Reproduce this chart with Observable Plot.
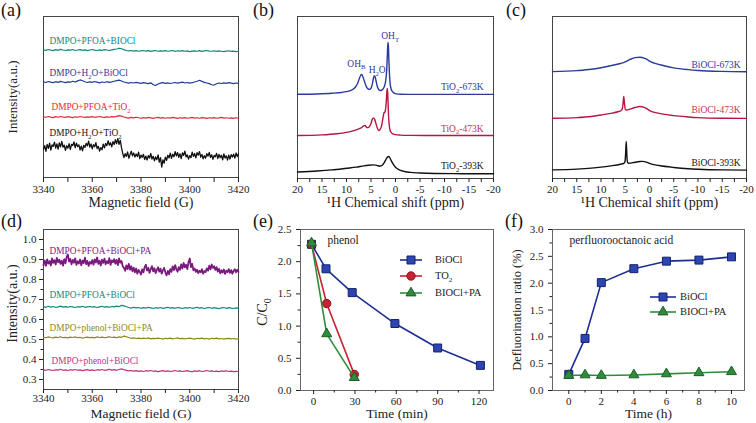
<!DOCTYPE html>
<html><head><meta charset="utf-8">
<script src="https://cdn.jsdelivr.net/npm/d3@7"></script>
<script src="https://cdn.jsdelivr.net/npm/@observablehq/plot@0.6"></script>
<style>
body{margin:0;background:#fff}
#fig{position:relative;width:756px;height:423px;overflow:hidden;background:#fff;font-family:'Liberation Serif','Times New Roman',serif}
#fig svg{position:absolute}
.plab{position:absolute;font-size:18px;line-height:18px;color:#111}
.leg{position:absolute;font-size:10.5px;line-height:12px;color:#222;white-space:nowrap}
</style></head><body><div id="fig"></div>
<script>
// ---------- DATA ----------
// (a) EPR spectra, 3340..3420 G
const fieldRange = [3340, 3420];
const fieldTicks = [3340,3350,3360,3370,3380,3390,3400,3410,3420];
const tealA = [79.3,79.0,79.5,79.1,78.8,79.4,79.0,79.6,79.2,78.9,79.3,79.1,79.5,78.9,79.2,79.4,79.0,79.3,78.8,79.2,79.5,79.1,78.9,79.3,79.0,79.4,79.2,78.9,79.3,79.6,79.8,80.3,80.0,79.4,78.9,78.6,78.9,78.5,78.8,78.4,78.7,78.9,78.5,78.8,78.3,78.6,78.9,78.4,78.7,78.5,78.8,78.4,78.6,78.9,78.3,78.7,78.5,78.8,78.4,78.6,78.2,78.5,78.7,78.4,78.8,78.3,78.6,78.9,78.5,78.4,78.7,78.3,78.6,78.4,78.2,78.5,78.7,78.3,78.5,78.2,78.4];
const blueA = [59.4,59.0,59.6,59.2,58.9,59.5,59.1,59.7,59.3,58.9,59.4,59.2,59.8,59.3,60.0,60.6,60.1,59.5,59.0,59.4,59.1,59.6,59.2,58.8,59.3,59.0,59.5,59.1,59.4,59.8,60.2,60.5,59.9,59.3,58.9,58.6,59.0,58.7,59.1,58.8,58.5,58.9,58.6,58.3,58.8,57.6,57.2,58.1,58.6,58.9,58.5,58.8,58.4,58.7,59.0,58.6,58.9,59.2,58.7,59.0,58.6,58.9,59.3,59.8,60.4,59.7,59.1,58.7,58.3,57.6,57.4,58.2,58.7,58.4,58.8,58.5,58.9,58.6,58.3,58.7,58.5];
const redA = [37.7,37.4,37.9,37.5,37.2,37.8,37.4,37.9,37.6,37.3,37.8,37.5,37.2,37.7,37.4,37.9,37.6,37.3,37.7,37.5,37.8,37.4,37.6,37.9,37.5,37.3,37.7,37.4,37.8,37.6,38.0,38.4,38.1,37.6,37.2,36.9,37.3,37.0,37.4,37.1,36.8,37.2,36.9,37.3,37.0,36.7,37.1,37.3,36.9,37.2,36.8,37.1,36.9,37.3,37.0,36.7,37.1,36.9,37.2,36.8,37.0,37.3,36.9,37.1,36.8,37.2,37.0,36.7,37.1,36.9,37.2,36.8,37.0,37.3,36.9,37.1,36.8,37.0,36.7,37.1,36.9];
const blackA = [17.5,19.8,16.2,20.5,18.1,21.3,17.0,20.2,19.4,22.0,18.3,20.9,17.6,21.5,19.0,22.4,18.8,20.1,16.9,19.7,
18.2,21.0,17.4,20.6,19.9,22.1,18.5,21.4,19.2,20.3,17.1,19.5,16.6,20.0,18.7,21.2,19.6,22.6,18.9,20.8,
17.8,20.4,19.1,21.7,18.0,19.3,16.4,18.6,17.2,20.7,18.4,21.1,19.8,22.8,20.1,21.6,19.0,22.3,20.5,23.5,
21.0,24.2,20.6,23.1,18.5,
15.0,12.4,14.8,13.1,15.9,12.0,14.2,16.3,13.5,15.2,12.7,14.6,13.0,15.7,11.8,13.9,12.5,14.4,11.2,13.3,
10.9,13.6,12.1,14.9,11.5,13.2,10.4,12.8,11.1,14.1,9.6,12.3,6.5,11.0,8.9,12.6,10.7,13.8,12.2,15.1,
11.9,14.5,12.9,16.0,13.4,15.5,12.6,14.7,11.7,15.3,13.7,16.4,12.8,14.0,11.4,13.6,12.4,15.8,13.1,14.9,
12.2,15.4,13.9,16.1,12.7,14.3,11.6,13.5,12.0,14.8,13.3,15.6,12.5,14.1,11.3,13.7,12.9,15.0,11.8,14.4,
12.3,13.8,11.0,14.6,12.1,13.4,10.8,13.9,11.5,14.2,12.7,14.5,12.0,15.2,13.0,14.7];

// (d) EPR spectra with PA
const intensityTicks = [0.3,0.4,0.5,0.6,0.7,0.8,0.9,1.0];
const intensityMinor = [0.35,0.45,0.55,0.65,0.75,0.85,0.95];
const purpleD = [0.872,0.895,0.868,0.901,0.879,0.892,0.870,0.905,0.883,0.897,0.875,0.908,0.886,0.899,0.878,0.894,0.869,0.902,0.881,0.912,
0.925,0.889,0.903,0.876,0.898,0.884,0.906,0.873,0.891,0.880,0.900,0.871,0.895,0.882,0.909,0.877,0.893,0.868,0.888,0.879,
0.897,0.874,0.901,0.885,0.910,0.878,0.894,0.870,0.899,0.883,0.904,0.876,0.892,0.881,0.907,0.873,0.896,0.886,0.902,0.879,
0.898,0.872,0.905,0.884,0.893,0.866,0.858,0.844,0.871,0.852,0.878,0.849,0.866,0.841,0.859,0.836,0.855,0.829,0.848,0.838,
0.825,0.851,0.836,0.862,0.874,0.845,0.858,0.833,0.852,0.867,0.841,0.856,0.832,0.848,0.861,0.839,0.854,0.829,0.846,0.858,
0.835,0.821,0.843,0.826,0.852,0.838,0.866,0.847,0.872,0.851,0.839,0.862,0.848,0.876,0.855,0.883,0.861,0.874,0.852,0.887,
0.905,0.862,0.878,0.846,0.855,0.838,0.849,0.832,0.844,0.836,0.851,0.829,0.842,0.837,0.856,0.844,0.869,0.851,0.875,0.858,
0.866,0.848,0.862,0.839,0.853,0.831,0.846,0.835,0.850,0.828,0.844,0.837,0.852,0.833,0.847,0.829,0.843,0.851,0.836,0.849,
0.838];
const tealD = [0.664,0.661,0.666,0.662,0.665,0.660,0.663,0.667,0.662,0.664,0.661,0.665,0.663,0.660,0.664,0.662,0.666,0.661,0.663,0.665,0.662,0.664,0.660,0.663,0.666,0.662,0.664,0.661,0.665,0.663,0.667,0.664,0.671,0.668,0.664,0.660,0.657,0.661,0.658,0.660,0.656,0.659,0.657,0.661,0.658,0.655,0.659,0.657,0.660,0.656,0.658,0.661,0.657,0.659,0.656,0.660,0.658,0.655,0.659,0.657,0.660,0.656,0.658,0.661,0.657,0.659,0.655,0.658,0.660,0.656,0.659,0.657,0.654,0.658,0.660,0.656,0.659,0.657,0.655,0.658,0.657];
const oliveD = [0.511,0.509,0.513,0.510,0.508,0.512,0.510,0.514,0.509,0.511,0.508,0.512,0.510,0.513,0.509,0.511,0.507,0.510,0.512,0.509,0.511,0.508,0.513,0.510,0.512,0.509,0.511,0.514,0.510,0.512,0.509,0.513,0.511,0.517,0.514,0.510,0.506,0.508,0.505,0.507,0.504,0.507,0.505,0.508,0.503,0.506,0.504,0.507,0.505,0.502,0.506,0.504,0.507,0.503,0.505,0.508,0.504,0.506,0.503,0.505,0.507,0.504,0.502,0.506,0.504,0.507,0.503,0.505,0.502,0.506,0.504,0.507,0.503,0.505,0.502,0.504,0.506,0.503,0.505,0.502,0.504];
const pinkD = [0.348,0.346,0.350,0.347,0.345,0.349,0.347,0.351,0.346,0.348,0.345,0.349,0.347,0.350,0.346,0.348,0.344,0.347,0.349,0.346,0.348,0.345,0.349,0.347,0.350,0.346,0.348,0.351,0.347,0.349,0.346,0.350,0.353,0.349,0.346,0.343,0.345,0.342,0.344,0.341,0.343,0.340,0.344,0.342,0.345,0.341,0.343,0.339,0.342,0.344,0.341,0.343,0.340,0.342,0.345,0.341,0.343,0.340,0.342,0.344,0.341,0.339,0.343,0.341,0.344,0.340,0.342,0.345,0.341,0.343,0.340,0.342,0.339,0.343,0.341,0.344,0.340,0.342,0.339,0.341,0.340];

// (b) 1H NMR of TiO2
const shiftTicks = [20,17.5,15,12.5,10,7.5,5,2.5,0,-2.5,-5,-7.5,-10,-12.5,-15,-17.5,-20];
const ppmB673 = [20,16,13,11,10,9.2,8.6,8.1,7.7,7.4,7.15,6.95,6.75,6.5,6.2,5.9,5.6,5.3,5.0,4.75,4.55,4.35,4.15,3.95,3.7,3.4,3.1,2.8,2.5,2.25,2.05,1.9,1.78,1.68,1.6,1.52,1.44,1.36,1.26,1.12,0.95,0.75,0.5,0.2,-0.3,-1,-2.5,-5,-10,-15,-20];
const valB673 = [52.0,52.2,52.6,53.1,53.6,54.3,55.2,56.8,59.0,61.5,63.4,64.2,63.6,61.5,58.6,56.4,55.3,55.0,55.8,58.0,61.2,63.4,62.6,60.0,56.6,54.8,54.3,54.6,55.5,57.0,59.5,63.0,68.0,75.0,81.0,84.0,81.5,74.0,66.0,59.5,56.0,54.2,53.2,52.6,52.2,52.0,51.9,51.9,51.9,51.9,51.9];
const ppmB473 = [20,15,12,10,8.5,7.5,6.9,6.5,6.2,5.9,5.6,5.3,5.0,4.75,4.5,4.25,4.0,3.7,3.4,3.1,2.8,2.55,2.35,2.15,1.98,1.85,1.75,1.66,1.58,1.5,1.4,1.28,1.1,0.85,0.5,0,-1,-3,-6,-10,-15,-20];
const valB473 = [26.5,26.9,27.6,28.5,29.6,30.6,31.5,32.5,32.8,31.5,31.4,32.2,34.0,36.5,37.4,36.5,34.0,31.0,29.6,30.5,33.0,37.5,40.5,41.0,44.0,49.0,54.0,55.6,52.0,45.0,38.0,33.0,29.8,28.3,27.6,27.1,26.8,26.6,26.5,26.5,26.5,26.5];
const ppmB393 = [20,16,13,10,8,6.5,5.5,4.5,3.8,3.2,2.7,2.3,2.0,1.7,1.45,1.2,0.9,0.5,0,-0.7,-1.5,-3,-5,-8,-12,-16,-20];
const valB393 = [4.0,4.6,5.3,6.3,7.0,7.8,8.2,8.4,8.1,7.6,8.2,9.8,11.5,13.0,13.6,13.0,11.2,9.0,6.9,5.5,4.6,3.8,3.4,3.1,3.0,2.9,2.9];

// (c) 1H NMR of BiOCl
const ppmC673 = [20,15,12,10,8,6,5,4,3,2,1,0.5,0,-1,-3,-5,-8,-10,-15,-20];
const valC673 = [66.0,66.6,67.4,68.4,69.6,71.0,72.0,73.5,74.6,74.8,74.2,73.5,72.4,71.2,69.6,68.3,67.2,66.7,66.1,65.9];
const ppmC473 = [20,15,12,10,8,6.5,5.9,5.6,5.45,5.3,5.15,5.0,4.7,4,3,2,1,0.5,0,-2,-5,-8,-10,-15,-20];
const valC473 = [37.2,37.6,38.3,39.2,40.2,41.2,41.8,43.0,46.5,50.6,46.0,42.8,42.3,42.8,43.8,44.4,43.8,43.0,41.9,40.2,38.8,38.0,37.6,37.2,37.1];
const ppmC393 = [20,15,12,10,8,6,5.3,5.05,4.92,4.8,4.68,4.55,4.3,3,2,1.5,0.5,0,-2,-5,-8,-10,-15,-20];
const valC393 = [5.3,5.8,6.4,7.0,7.8,8.8,9.3,10.5,15.5,22.9,15.0,10.2,9.4,10.0,10.5,10.6,10.0,9.3,8.0,6.8,6.0,5.7,5.3,5.2];

// (e) phenol degradation
const timeE = [-1.5, 9, 28, 59, 90, 121];
const phenolBiOCl = [2.27, 1.89, 1.52, 1.04, 0.66, 0.39];
const timeE2 = [-1.5, 9.5, 29.5];
const phenolTiO2 = [2.27, 1.35, 0.25];
const phenolPA = [2.29, 0.88, 0.20];
const timeTicksE = [0, 30, 60, 90, 120];
const timeMinorE = [15, 45, 75, 105];
const ccTicks = [0, 0.5, 1.0, 1.5, 2.0, 2.5];
const ccMinor = [0.25, 0.75, 1.25, 1.75, 2.25];

// (f) defluorination of PFOA
const timeF = [0, 1, 2, 4, 6, 8, 10];
const deflBiOCl = [0.30, 0.97, 2.01, 2.27, 2.41, 2.43, 2.49];
const deflPA = [0.28, 0.29, 0.28, 0.29, 0.31, 0.33, 0.35];
const timeTicksF = [0, 2, 4, 6, 8, 10];
const timeMinorF = [1, 3, 5, 7, 9];
const deflTicks = [0, 0.5, 1.0, 1.5, 2.0, 2.5, 3.0];
const deflMinor = [0.25, 0.75, 1.25, 1.75, 2.25, 2.75];

// ---------- HELPERS ----------
const fig = document.getElementById("fig");
const serif = "'Liberation Serif','Times New Roman',serif";
const baseStyle = {fontFamily: serif, fontSize: "11px", color: "#222", background: "transparent", overflow: "visible"};
const fieldFine = blackA.map((_, i) => fieldRange[0] + i * (fieldRange[1] - fieldRange[0]) / (blackA.length - 1));
const fieldCoarse = tealA.map((_, i) => fieldRange[0] + i * (fieldRange[1] - fieldRange[0]) / (tealA.length - 1));

function subs(svg) {
  d3.select(svg).selectAll("text").each(function() {
    const t = this.textContent;
    if (!t.includes("_")) return;
    const fs = parseFloat(getComputedStyle(this).fontSize) || 11;
    const el = d3.select(this);
    this.textContent = "";
    const parts = t.split(/_(.)/);
    let down = false;
    parts.forEach((p, i) => {
      if (i % 2 === 1) { el.append("tspan").attr("dy", 0.3 * fs).attr("font-size", 0.7 * fs).text(p); down = true; }
      else if (p) { const ts = el.append("tspan").text(p); if (down) { ts.attr("dy", -0.3 * fs); down = false; } }
    });
  });
}
function place(svg, left, top) {
  svg.style.left = left + "px"; svg.style.top = top + "px";
  fig.appendChild(svg); subs(svg);
}
function panelLabel(txt, left, top) {
  const d = document.createElement("div"); d.className = "plab"; d.textContent = txt;
  d.style.left = left + "px"; d.style.top = top + "px"; fig.appendChild(d);
}
function seriesLine(xs, ys, stroke, w, curve = "linear") {
  return Plot.line(ys, {x: (d, i) => xs[i], y: d => d, stroke, strokeWidth: w, curve});
}
function tag(txt, xs, ys, idx, fill, dx, dy, anchor = "start", size = 9.3) {
  return Plot.text([txt], {x: () => xs[idx], y: () => ys[idx], text: d => d, fill, dx, dy, textAnchor: anchor, lineAnchor: "middle", fontSize: size});
}
function xTitle(t, dy, size = 14) { return Plot.text([t], {frameAnchor: "bottom", text: d => d, dy, lineAnchor: "middle", fontSize: size, fill: "#222"}); }
function yTitle(t, dx, size = 13, dy = 0) { return Plot.text([t], {frameAnchor: "left", text: d => d, dx, dy, rotate: -90, lineAnchor: "middle", textAnchor: "middle", fontSize: size, fill: "#222"}); }
const str = d => String(d);
const none = () => "";

function legendItem(cx, cy, half, labelX, type, size, color, fill, stroke, label) {
  const w = half * 2 + 4, h = 16;
  const s = d3.create("svg").attr("width", w).attr("height", h)
    .style("left", (cx - w / 2) + "px").style("top", (cy - h / 2) + "px");
  s.append("line").attr("x1", 2).attr("x2", w - 2).attr("y1", h / 2).attr("y2", h / 2).attr("stroke", color).attr("stroke-width", 1.6);
  s.append("path").attr("d", d3.symbol().type(type).size(size)()).attr("transform", `translate(${w / 2},${h / 2})`)
    .attr("fill", fill).attr("stroke", stroke).attr("stroke-width", 1);
  fig.appendChild(s.node());
  const d = document.createElement("div"); d.className = "leg"; d.innerHTML = label;
  d.style.left = labelX + "px"; d.style.top = (cy - 6) + "px"; fig.appendChild(d);
}

const C = {teal: "#12877c", blueA: "#1f3d96", redA: "#e0283f", black: "#111111",
  nmrBlue: "#2a3b9b", crimson: "#b5173f", crimsonText: "#c2335a", purple: "#7a1a7f", olive: "#8c8a1c", pink: "#c2317c",
  eBlue: "#1e2f93", eBlueFill: "#2c45b0", eBlueStroke: "#15226e", eRed: "#c92232", eRedStroke: "#8c1020", eGreen: "#2f8c3c", eGreenStroke: "#1d5e27"};

// ---------- (a) ----------
place(Plot.plot({
  width: 252, height: 211, marginLeft: 43, marginRight: 14, marginTop: 16, marginBottom: 34, style: baseStyle,
  x: {domain: fieldRange}, y: {domain: [0, 100], axis: null},
  marks: [
    Plot.frame({stroke: "#444"}),
    Plot.axisX(fieldTicks, {tickSize: 5, tickPadding: 3, tickFormat: d => d % 20 === 0 ? String(d) : "", label: null}),
    seriesLine(fieldCoarse, tealA, C.teal, 1.2),
    seriesLine(fieldCoarse, blueA, C.blueA, 1.2),
    seriesLine(fieldCoarse, redA, C.redA, 1.2),
    seriesLine(fieldFine, blackA, C.black, 1.3),
    tag("DMPO+PFOA+BIOCl", fieldCoarse, tealA, 0, C.teal, 6, -8.5),
    tag("DMPO+H_2O+BiOCl", fieldCoarse, blueA, 0, C.blueA, 6, -8.5),
    tag("DMPO+PFOA+TiO_2", fieldCoarse, redA, 0, C.redA, 8, -9.5),
    tag("DMPO+H_2O+TiO_2", fieldFine, blackA, 0, C.black, 6, -16),
    xTitle("Magnetic field (G)", 25),
    yTitle("Intensity(a.u.)", -31, 13)
  ]
}), 0, 0);

// ---------- (b) ----------
place(Plot.plot({
  width: 252, height: 211, marginLeft: 45, marginRight: 11, marginTop: 16, marginBottom: 33, style: baseStyle,
  x: {domain: [20, -20]}, y: {domain: [0, 100], axis: null},
  marks: [
    Plot.frame({stroke: "#444"}),
    Plot.axisX(shiftTicks, {tickSize: 4, tickPadding: 3, tickFormat: d => d % 5 === 0 ? String(d) : "", label: null}),
    seriesLine(ppmB673, valB673, C.nmrBlue, 1.4, "monotone-x"),
    seriesLine(ppmB473, valB473, C.crimson, 1.4, "monotone-x"),
    seriesLine(ppmB393, valB393, C.black, 1.4, "monotone-x"),
    tag("TiO_2-673K", ppmB673, valB673, ppmB673.length - 1, C.nmrBlue, -10, -7, "end", 9.5),
    tag("TiO_2-473K", ppmB473, valB473, ppmB473.length - 1, C.crimsonText, -10, -7, "end", 9.5),
    tag("TiO_2-393K", ppmB393, valB393, ppmB393.length - 1, C.black, -10, -8, "end", 9.5),
    tag("OH_B", ppmB673, valB673, 11, C.nmrBlue, -5, -11, "middle", 9.5),
    tag("H_2O", ppmB673, valB673, 21, C.nmrBlue, 3, -6, "middle", 9.5),
    tag("OH_T", ppmB673, valB673, 35, C.nmrBlue, 2, -6, "middle", 9.5),
    xTitle("¹H Chemical shift (ppm)", 24),
  ]
}), 252, 0);

// ---------- (c) ----------
place(Plot.plot({
  width: 252, height: 211, marginLeft: 48, marginRight: 10, marginTop: 16, marginBottom: 33, style: baseStyle,
  x: {domain: [20, -20]}, y: {domain: [0, 100], axis: null},
  marks: [
    Plot.frame({stroke: "#444"}),
    Plot.axisX(shiftTicks, {tickSize: 4, tickPadding: 3, tickFormat: d => d % 5 === 0 ? String(d) : "", label: null}),
    seriesLine(ppmC673, valC673, C.nmrBlue, 1.4, "monotone-x"),
    seriesLine(ppmC473, valC473, C.crimson, 1.4, "monotone-x"),
    seriesLine(ppmC393, valC393, C.black, 1.4, "monotone-x"),
    tag("BiOCl-673K", ppmC673, valC673, ppmC673.length - 1, C.nmrBlue, -6, -7, "end", 9.5),
    tag("BiOCl-473K", ppmC473, valC473, ppmC473.length - 1, C.crimsonText, -6, -8, "end", 9.5),
    tag("BiOCl-393K", ppmC393, valC393, ppmC393.length - 1, C.black, -6, -7, "end", 9.5),
    xTitle("¹H Chemical shift (ppm)", 24),
  ]
}), 504, 0);

// ---------- (d) ----------
place(Plot.plot({
  width: 252, height: 212, marginLeft: 43, marginRight: 14, marginTop: 18, marginBottom: 34, style: baseStyle,
  x: {domain: fieldRange}, y: {domain: [0.25, 1.05]},
  marks: [
    Plot.frame({stroke: "#444"}),
    Plot.axisX(fieldTicks, {tickSize: 4, tickPadding: 1, tickFormat: d => d % 20 === 0 ? String(d) : "", label: null}),
    Plot.axisY(intensityTicks, {tickSize: 4, tickPadding: 3, tickFormat: d3.format(".1f"), label: null}),
    Plot.axisY(intensityMinor, {tickSize: 2.5, tickFormat: none, label: null}),
    seriesLine(fieldFine, purpleD, C.purple, 1.8),
    seriesLine(fieldCoarse, tealD, C.teal, 1.2),
    seriesLine(fieldCoarse, oliveD, C.olive, 1.2),
    seriesLine(fieldCoarse, pinkD, C.pink, 1.2),
    tag("DMPO+PFOA+BiOCl+PA", fieldFine, purpleD, 0, C.purple, 6, -14.5),
    tag("DMPO+PFOA+BiOCl", fieldCoarse, tealD, 0, C.teal, 6, -12),
    tag("DMPO+phenol+BiOCl+PA", fieldCoarse, oliveD, 0, C.olive, 6, -9),
    tag("DMPO+phenol+BiOCl", fieldCoarse, pinkD, 0, C.pink, 8, -8.5),
    xTitle("Magnetic field (G)", 24, 13.5),
    yTitle("Intensity(a.u.)", -31, 14, -6)
  ]
}), 0, 211);

// ---------- (e) ----------
place(Plot.plot({
  width: 252, height: 212, marginLeft: 48, marginRight: 11, marginTop: 18, marginBottom: 33, style: baseStyle,
  x: {domain: [-9.5, 130.5]}, y: {domain: [0, 2.5]},
  marks: [
    Plot.frame({stroke: "#666"}),
    Plot.axisX(timeTicksE, {tickSize: 4, tickPadding: 3, tickFormat: str, label: null}),
    Plot.axisX(timeMinorE, {tickSize: 2.5, tickFormat: none, label: null}),
    Plot.axisY(ccTicks, {tickSize: 4, tickPadding: 5, tickFormat: d3.format(".1f"), label: null}),
    Plot.axisY(ccMinor, {tickSize: 2.5, tickFormat: none, label: null}),
    seriesLine(timeE, phenolBiOCl, C.eBlue, 1.6),
    Plot.dot(phenolBiOCl, {x: (d, i) => timeE[i], y: d => d, symbol: "square", r: 4.5, fill: C.eBlueFill, stroke: C.eBlueStroke, strokeWidth: 1}),
    seriesLine(timeE2, phenolTiO2, C.eRed, 1.6),
    Plot.dot(phenolTiO2, {x: (d, i) => timeE2[i], y: d => d, symbol: "circle", r: 4.2, fill: C.eRed, stroke: C.eRedStroke, strokeWidth: 1}),
    seriesLine(timeE2, phenolPA, C.eGreen, 1.6),
    Plot.dot(phenolPA, {x: (d, i) => timeE2[i], y: d => d, symbol: "triangle", r: 3.7, fill: C.eGreen, stroke: C.eGreenStroke, strokeWidth: 1}),
    Plot.text(["phenol"], {frameAnchor: "top-left", text: d => d, dx: 27, dy: 11, lineAnchor: "middle", textAnchor: "start", fontSize: 11.5, fill: "#222"}),
    xTitle("Time (min)", 23, 13.5),
    yTitle("C/C_0", -38, 14, 2)
  ]
}), 252, 211);

// ---------- (f) ----------
place(Plot.plot({
  width: 252, height: 212, marginLeft: 48, marginRight: 12, marginTop: 18, marginBottom: 33, style: baseStyle,
  x: {domain: [-1, 10.8]}, y: {domain: [0, 3.0]},
  marks: [
    Plot.frame({stroke: "#666"}),
    Plot.axisX(timeTicksF, {tickSize: 4, tickPadding: 3, tickFormat: str, label: null}),
    Plot.axisX(timeMinorF, {tickSize: 2.5, tickFormat: none, label: null}),
    Plot.axisY(deflTicks, {tickSize: 4, tickPadding: 5, tickFormat: d3.format(".1f"), label: null}),
    Plot.axisY(deflMinor, {tickSize: 2.5, tickFormat: none, label: null}),
    seriesLine(timeF, deflBiOCl, C.eBlue, 1.6),
    Plot.dot(deflBiOCl, {x: (d, i) => timeF[i], y: d => d, symbol: "square", r: 4.5, fill: C.eBlueFill, stroke: C.eBlueStroke, strokeWidth: 1}),
    seriesLine(timeF, deflPA, C.eGreen, 1.6),
    Plot.dot(deflPA, {x: (d, i) => timeF[i], y: d => d, symbol: "triangle", r: 3.7, fill: C.eGreen, stroke: C.eGreenStroke, strokeWidth: 1}),
    Plot.text(["perfluorooctanoic acid"], {frameAnchor: "top-left", text: d => d, dx: 17, dy: 11, lineAnchor: "middle", textAnchor: "start", fontSize: 11.5, fill: "#222"}),
    xTitle("Time (h)", 23, 13.5),
    yTitle("Defluorination ratio (%)", -36, 12.5)
  ]
}), 504, 211);

// ---------- legends ----------
legendItem(411, 260, 11, 435, d3.symbolSquare, 64, C.eBlue, C.eBlueFill, C.eBlueStroke, "BiOCl");
legendItem(411, 275.5, 11, 435, d3.symbolCircle, 55, C.eRed, C.eRed, C.eRedStroke, "TO<sub style='font-size:7px'>2</sub>");
legendItem(411, 293, 11, 435, d3.symbolTriangle, 43, C.eGreen, C.eGreen, C.eGreenStroke, "BIOCl+PA");
legendItem(663, 297, 13, 680, d3.symbolSquare, 64, C.eBlue, C.eBlueFill, C.eBlueStroke, "BiOCl");
legendItem(663, 312, 13, 680, d3.symbolTriangle, 43, C.eGreen, C.eGreen, C.eGreenStroke, "BIOCl+PA");

// ---------- panel labels ----------
panelLabel("(a)", 1, 1); panelLabel("(b)", 253, 1); panelLabel("(c)", 506, 1);
panelLabel("(d)", 1, 212); panelLabel("(e)", 253, 212); panelLabel("(f)", 505, 212);
</script></body></html>
